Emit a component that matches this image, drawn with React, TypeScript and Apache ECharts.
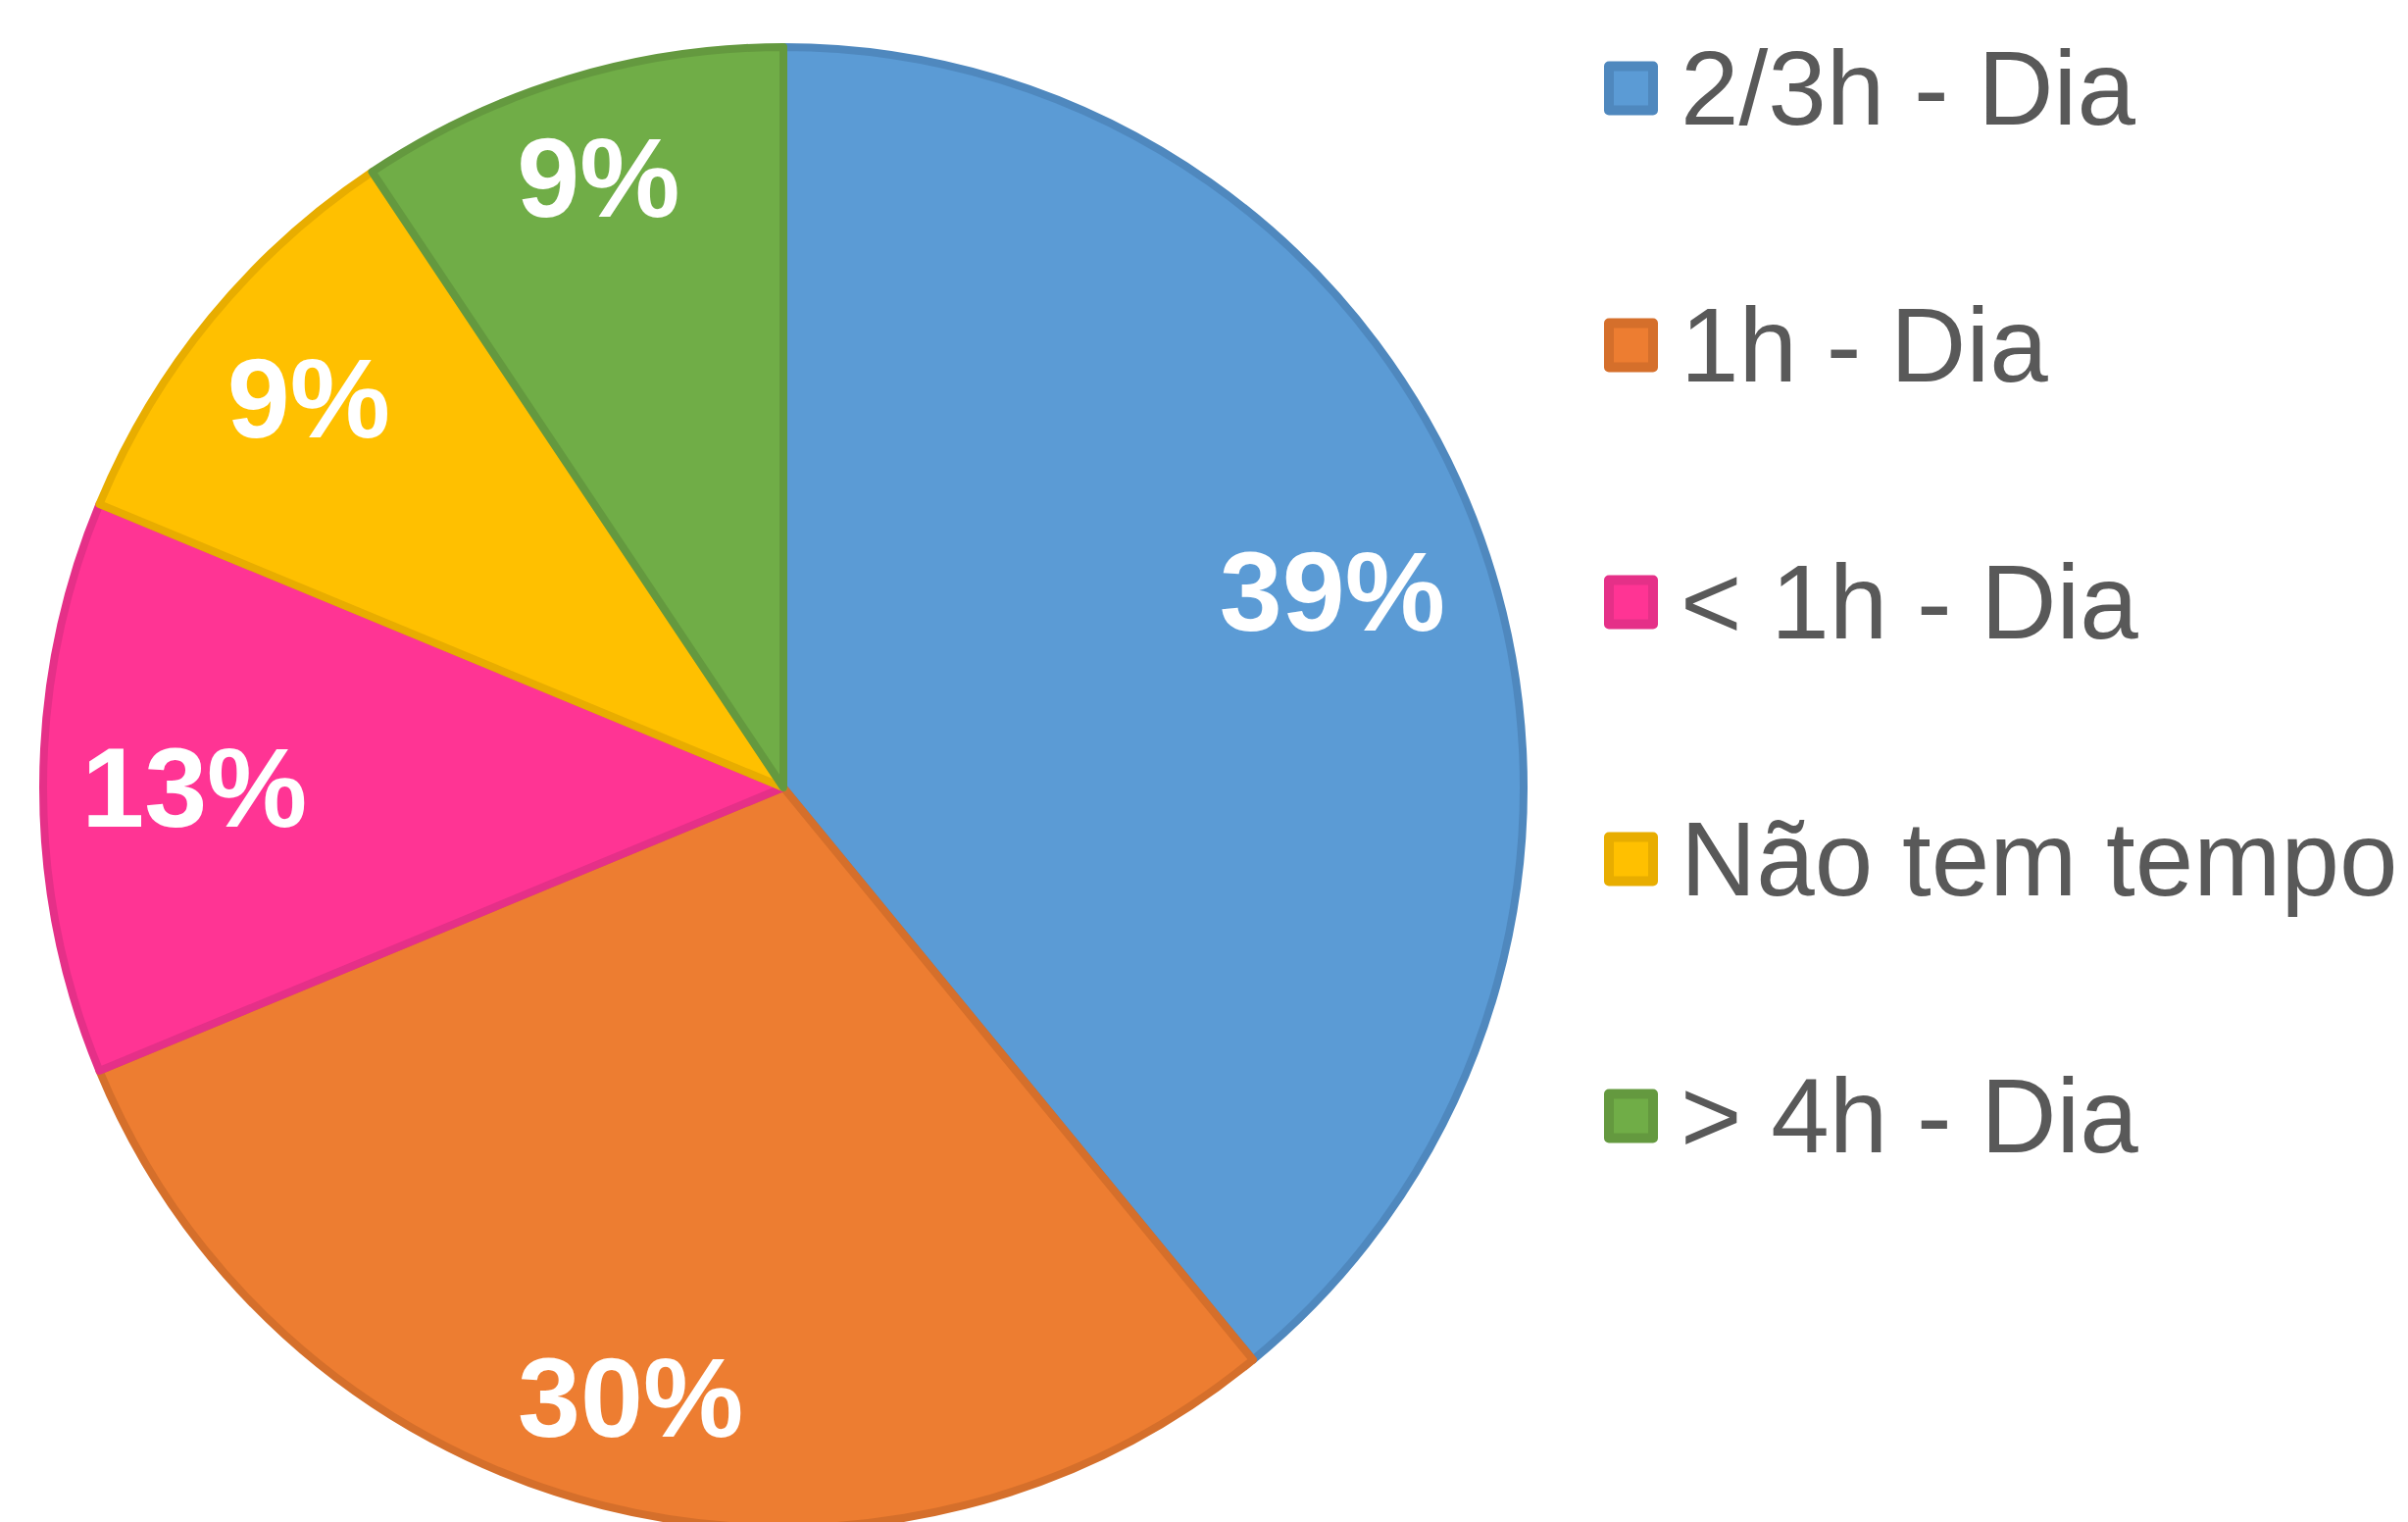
import React, { useEffect, useRef } from "react";
import * as echarts from "echarts";

// Respondent counts per answer (shares; labels show rounded %)
const categories = ["2/3h - Dia", "1h - Dia", "< 1h - Dia", "Não tem tempo", "> 4h - Dia"];
const respondents = [25, 19, 8, 6, 6];
const fillColors = ["#5B9BD5", "#ED7D31", "#FF3494", "#FFC000", "#70AD47"];
const borderColors = ["#4F88BE", "#D56F2B", "#E53088", "#E8AD00", "#64993F"];

export default function App() {
  const ref = useRef<HTMLDivElement>(null);
  useEffect(() => {
    document.body.style.margin = "0";
    const chart = echarts.init(ref.current!, null, { renderer: "svg" });
    const R = 755;
    const cx = 799;
    const cy = 803;
    const labelSize = 115;
    const total = respondents.reduce((a, b) => a + b, 0);
    const midAngles: number[] = [];
    let cum = 0;
    respondents.forEach((v) => {
      midAngles.push(((90 - (360 * (cum + v / 2)) / total) * Math.PI) / 180);
      cum += v;
    });
    const data = categories.map((name, i) => ({
      name,
      value: respondents[i],
      itemStyle: { color: fillColors[i], borderColor: borderColors[i], borderWidth: 8 },
    }));
    chart.setOption({
      animation: false,
      backgroundColor: "#ffffff",
      legend: {
        orient: "vertical",
        left: 1636,
        top: 36,
        padding: 0,
        itemWidth: 45,
        itemHeight: 45,
        itemGap: 154,
        icon: "rect",
        selectedMode: false,
        data: categories.map((name, i) => ({
          name,
          itemStyle: { color: fillColors[i], borderColor: borderColors[i], borderWidth: 10 },
        })),
        textStyle: {
          color: "#595959",
          fontSize: 107,
          lineHeight: 108,
          fontFamily: "Liberation Sans, Arial, sans-serif",
          padding: [0, 0, 0, 23],
        },
      },
      series: [
        {
          type: "pie",
          center: [cx, cy],
          radius: [0, R],
          startAngle: 90,
          clockwise: true,
          percentPrecision: 0,
          label: {
            show: true,
            position: "inside",
            formatter: "{d}%",
            color: "#ffffff",
            fontSize: labelSize,
            fontWeight: "bold",
            fontFamily: "Liberation Sans, Arial, sans-serif",
          },
          labelLine: { show: false },
          // inside-end placement: label box pushed outwards until its far corner nears the rim
          labelLayout: (params: any) => {
            const a = midAngles[params.dataIndex];
            const ca = Math.abs(Math.cos(a));
            const sa = Math.abs(Math.sin(a));
            const p = params.labelRect.width / 2;
            const q = (labelSize * 0.72) / 2;
            const L = R - 38;
            const b = ca * p + sa * q;
            const d = -b + Math.sqrt(b * b - (p * p + q * q - L * L));
            return { x: cx + d * Math.cos(a), y: cy - d * Math.sin(a) };
          },
          emphasis: { disabled: true },
          data,
        },
      ],
    });
    return () => chart.dispose();
  }, []);
  return <div ref={ref} style={{ width: 2456, height: 1552 }} />;
}
